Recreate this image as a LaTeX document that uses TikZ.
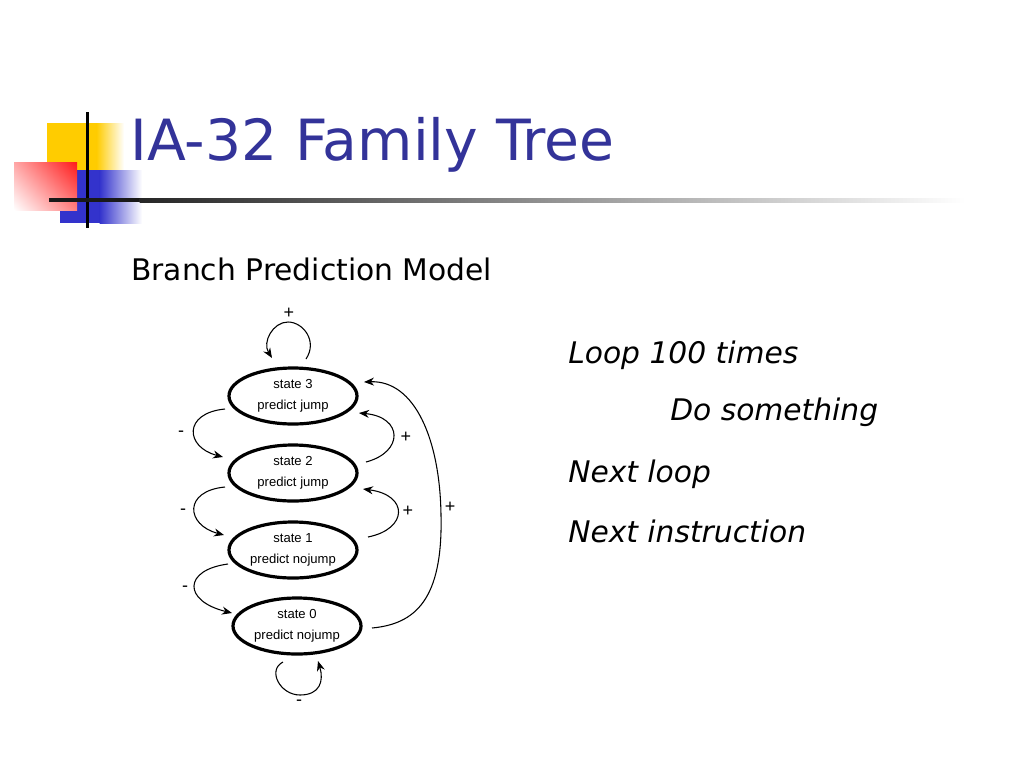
\documentclass[tikz,border=0pt]{standalone}
\usepackage{fontspec}
\setmainfont{DejaVu Sans}
\newfontfamily\diagfont{Liberation Sans}
\usetikzlibrary{shapes.geometric,arrows.meta,calc,shadings}
\definecolor{titleblue}{HTML}{333399}
\definecolor{logoyellow}{HTML}{FFCC00}
\definecolor{logored}{HTML}{FF1A1A}
\definecolor{logoblue}{HTML}{3333CC}
\begin{document}
\begin{tikzpicture}[x=0.75pt,y=-0.75pt,
  statebox/.style={ellipse, draw, line width=2.4pt, minimum width=96pt, minimum height=42pt,
    inner sep=0pt, align=center, font=\diagfont\fontsize{9.8}{16}\selectfont},
  arr/.style={-{Stealth[length=7.5pt,width=6pt]}, line width=0.8pt},
  lbl/.style={font=\diagfont\fontsize{13.5}{15}\selectfont, inner sep=0pt},
  slidetext/.style={anchor=base west, inner sep=0pt, font=\fontsize{22.3}{26}\selectfont},
  codetext/.style={anchor=base west, inner sep=0pt, font=\itshape\fontsize{22.3}{26}\selectfont}]
\useasboundingbox[fill=white] (0,0) rectangle (1024,768);

% logo
\fill[logoyellow] (47,123) rectangle (97,190);
\shade[left color=logoyellow, right color=white] (96.5,123) rectangle (124,190);
\fill[logoblue] (60,170) rectangle (100,223);
\shade[left color=logoblue, right color=white] (99.5,170) rectangle (142,223);
\shade[upper right=logored, upper left=red!35, lower left=white, lower right=red!50] (14,162) rectangle (77,210);
\fill[black] (85.5,112) rectangle (88.5,228);
\fill[black!90] (49,198) rectangle (140,202);
\shade[left color=black!85, right color=white] (139.5,198) rectangle (965,202);

% texts
\node[anchor=base west, inner sep=0pt, text=titleblue, font=\fontsize{42.6}{50}\selectfont] (title) at (130,160) {IA-32 Family Tree};
\node[slidetext] (sub) at (131,280) {Branch Prediction Model};
\node[codetext] (c1) at (568,363) {Loop 100 times};
\node[codetext] (c2) at (670,420) {Do something};
\node[codetext] (c3) at (568,482) {Next loop};
\node[codetext] (c4) at (568,542) {Next instruction};

% states
\node[statebox] (s3) at (293,396) {state 3\\predict jump};
\node[statebox] (s2) at (293,473) {state 2\\predict jump};
\node[statebox] (s1) at (293,550) {state 1\\predict nojump};
\node[statebox] (s0) at (297,626) {state 0\\predict nojump};
\coordinate (r) at (441,515);

% self loop state 3
\draw[arr] ($(s3)+(13,-37)$) .. controls +(12,-18) and +(15,0) .. ($(s3)+(-5,-74)$)
   .. controls +(-15,0) and +(-10,-16) .. ($(s3)+(-21,-38)$);
\node[lbl] (p3) at (289,313) {+};
% 3 -> 2
\draw[arr] ($(s3)+(-68,13)$) .. controls +(-42,4) and +(-38,-10) .. ($(s2)+(-70,-16)$);
\node[lbl] (m32) at (181,434) {-};
% 2 -> 3
\draw[arr] ($(s2)+(73,-11)$) .. controls +(38,-10) and +(44,4) .. ($(s3)+(66,17)$);
\node[lbl] (p23) at (406,437) {+};
% 2 -> 1
\draw[arr] ($(s2)+(-68,14)$) .. controls +(-42,4) and +(-38,-10) .. ($(s1)+(-69,-15)$);
\node[lbl] (m21) at (183,512) {-};
% 1 -> 2
\draw[arr] ($(s1)+(75,-13)$) .. controls +(40,-8) and +(46,6) .. ($(s2)+(70,16)$);
\node[lbl] (p12) at (408,511) {+};
% 1 -> 0
\draw[arr] ($(s1)+(-65,14)$) .. controls +(-45,6) and +(-49,-12) .. ($(s0)+(-65,-13)$);
\node[lbl] (m10) at (185,589) {-};
% 0 -> 3
\draw[arr] ($(s0)+(75,2)$) .. controls +(43,-4) and +(2,85) .. (r)
   .. controls +(-1,-75) and +(51,-2) .. ($(s3)+(71,-14)$);
\node[lbl] (p03) at (450,507) {+};
% self loop state 0
\draw[arr] ($(s0)+(-14,36)$) .. controls +(-16,8) and +(-20,0) .. ($(s0)+(3,69)$)
   .. controls +(20,0) and +(6,20) .. ($(s0)+(21,35)$);
\node[lbl] (m00) at (299,703) {-};
\end{tikzpicture}
\end{document}
